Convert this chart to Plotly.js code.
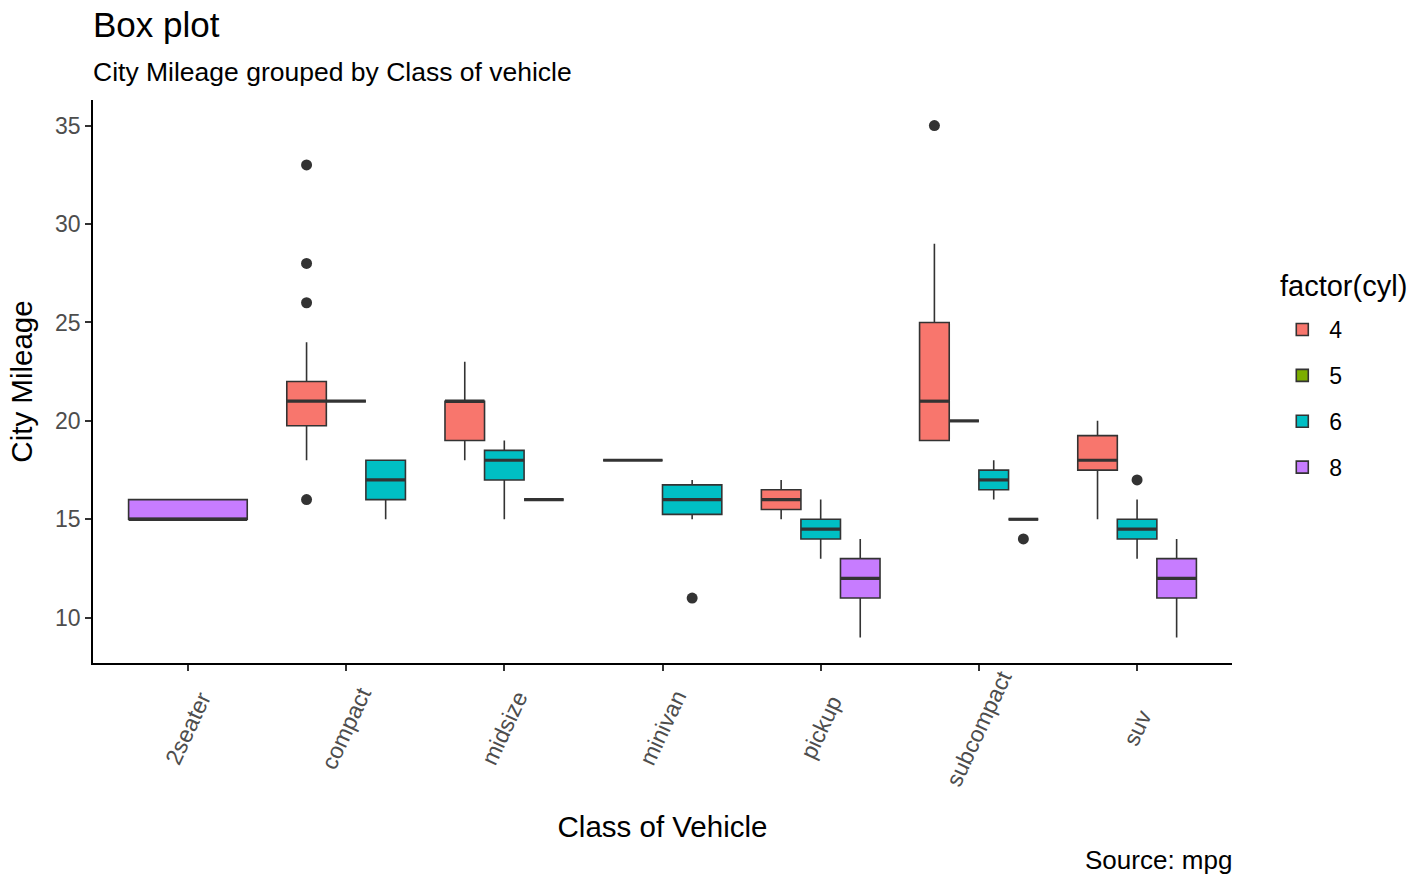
<!DOCTYPE html>
<html>
<head>
<meta charset="utf-8">
<script src="https://cdn.plot.ly/plotly-3.0.1.min.js"></script>
<style>html,body{margin:0;padding:0;background:#fff;}#chart{width:1424px;height:875px;}</style>
</head>
<body>
<div id="chart"></div>
<script>
// ---- Data ----
const classes = ['2seater','compact','midsize','minivan','pickup','subcompact','suv'];
const cylLevels = ['4','5','6','8'];

// one entry per box
const boxClass = ['2seater','compact','compact','compact','midsize','midsize','midsize','minivan','minivan','pickup','pickup','pickup','subcompact','subcompact','subcompact','subcompact','suv','suv','suv'];
const boxCyl   = ['8','4','5','6','4','6','8','4','6','4','6','8','4','5','6','8','4','6','8'];
const q1       = [15, 19.75, 21, 16, 19, 17, 16, 18, 15.25, 15.5, 14, 11, 19, 20, 16.5, 15, 17.5, 14, 11];
const medians  = [15, 21, 21, 17, 21, 18, 16, 18, 16, 16, 14.5, 12, 21, 20, 17, 15, 18, 14.5, 12];
const q3       = [16, 22, 21, 18, 21, 18.5, 16, 18, 16.75, 16.5, 15, 13, 25, 20, 17.5, 15, 19.25, 15, 13];
const whiskLo  = [15, 18, 21, 15, 18, 15, 16, 18, 15, 15, 13, 9, 19, 20, 16, 15, 15, 13, 9];
const whiskHi  = [16, 24, 21, 18, 23, 19, 16, 18, 17, 17, 16, 14, 29, 20, 18, 15, 20, 16, 14];

// outliers
const outClass = ['compact','compact','compact','compact','minivan','subcompact','subcompact','suv'];
const outCyl   = ['4','4','4','4','6','4','8','6'];
const outValue = [16, 26, 28, 33, 11, 35, 14, 17];

// ---- Styles ----
const fillColors = {'4':'#F8766D','5':'#7CAE00','6':'#00BFC4','8':'#C77CFF'};
const lineCol = '#333333';
const FONT = 'Liberation Sans, Arial, Helvetica, sans-serif';
const dodgeWidth = 0.75;

// ---- Dodge positions (computed) ----
function boxPosition(cls, cyl) {
  const present = cylLevels.filter(c => boxClass.some((b, i) => b === cls && boxCyl[i] === c));
  const n = present.length;
  const k = present.indexOf(cyl);
  const w = dodgeWidth / n;
  const center = classes.indexOf(cls) + (k - (n - 1) / 2) * w;
  return {center, w};
}

const traces = [];
const seen = {};
cylLevels.forEach(cyl => {
  boxClass.forEach((cls, i) => {
    if (boxCyl[i] !== cyl) return;
    const p = boxPosition(cls, cyl);
    traces.push({
      type: 'box',
      x: [p.center],
      q1: [q1[i]], median: [medians[i]], q3: [q3[i]],
      lowerfence: [whiskLo[i]], upperfence: [whiskHi[i]],
      width: p.w,
      boxpoints: false,
      fillcolor: fillColors[cyl],
      line: {color: lineCol, width: 1.6},
      whiskerwidth: 0,
      name: cyl,
      legendgroup: cyl,
      showlegend: !seen[cyl],
      hoverinfo: 'y'
    });
    seen[cyl] = true;
  });
});

// thick median lines
const mx = [], my = [];
boxClass.forEach((cls, i) => {
  const p = boxPosition(cls, boxCyl[i]);
  mx.push(p.center - p.w / 2, p.center + p.w / 2, null);
  my.push(medians[i], medians[i], null);
});
traces.push({type:'scatter', mode:'lines', x: mx, y: my, line:{color: lineCol, width: 3.2},
  showlegend:false, hoverinfo:'skip'});

// outliers
traces.push({type:'scatter', mode:'markers',
  x: outClass.map((c, i) => boxPosition(c, outCyl[i]).center),
  y: outValue,
  marker:{color: lineCol, size: 11}, showlegend:false, hoverinfo:'y'});

// rotated category labels (centered like ggplot angle=65)
const annotations = classes.map((c, i) => ({
  text: c, x: i, xref: 'x', y: -0.115, yref: 'paper', textangle: -65,
  showarrow: false, xanchor: 'center', yanchor: 'middle',
  font: {family: FONT, size: 23, color: '#4D4D4D'}
}));
annotations.push({text: 'City Mileage grouped by Class of vehicle', x: 0, xref: 'paper', xanchor: 'left',
  xshift: -2, y: (663 - 72) / 563, yref: 'paper', yanchor: 'middle', showarrow: false,
  font: {family: FONT, size: 26.5, color: '#000'}});
annotations.push({text: 'Source: mpg', x: 1, xref: 'paper', xanchor: 'right', xshift: 2,
  y: -0.35, yref: 'paper', yanchor: 'middle', showarrow: false,
  font: {family: FONT, size: 26, color: '#000'}});
// legend title
annotations.push({text: 'factor(cyl)', x: (1280 - 93) / 1139, xref: 'paper', xanchor: 'left', xshift: -2,
  y: (663 - 286) / 563, yref: 'paper', yanchor: 'middle', showarrow: false,
  font: {family: FONT, size: 29, color: '#000'}});

const layout = {
  width: 1424, height: 875,
  paper_bgcolor: '#fff', plot_bgcolor: '#fff',
  margin: {l: 93, r: 192, t: 100, b: 212},
  font: {family: FONT, color: '#000'},
  title: {
    text: 'Box plot', x: 0, xref: 'paper', xanchor: 'left',
    y: 1 - 25/875, yref: 'container', yanchor: 'middle',
    font: {family: FONT, size: 35, color: '#000'}
  },
  boxmode: 'overlay',
  showlegend: true,
  xaxis: {
    range: [-0.6, 6.6], tickvals: classes.map((c, i) => i), showticklabels: false,
    ticks: 'outside', ticklen: 6, tickwidth: 1.5, tickcolor: '#333',
    showline: true, linecolor: '#000', linewidth: 1.6, showgrid: false, zeroline: false,
    title: {text: 'Class of Vehicle', font: {family: FONT, size: 29.5, color: '#000'}, standoff: 147}
  },
  yaxis: {
    range: [7.7, 36.3], tickvals: [10, 15, 20, 25, 30, 35],
    ticks: 'outside', ticklen: 6, tickwidth: 1.5, tickcolor: '#333',
    tickfont: {family: FONT, size: 23, color: '#4D4D4D'},
    showline: true, linecolor: '#000', linewidth: 1.6, showgrid: false, zeroline: false,
    title: {text: 'City Mileage', font: {family: FONT, size: 29.5, color: '#000'}, standoff: 14}
  },
  legend: {
    x: 1.038, xanchor: 'left', y: (663 - 308) / 563, yanchor: 'top',
    font: {family: FONT, size: 23, color: '#000'},
    itemwidth: 44,
    traceorder: 'grouped', tracegroupgap: 13, bgcolor: 'rgba(0,0,0,0)'
  },
  annotations: annotations
};

Plotly.newPlot('chart', traces, layout, {displayModeBar: false, responsive: false});
</script>
</body>
</html>
